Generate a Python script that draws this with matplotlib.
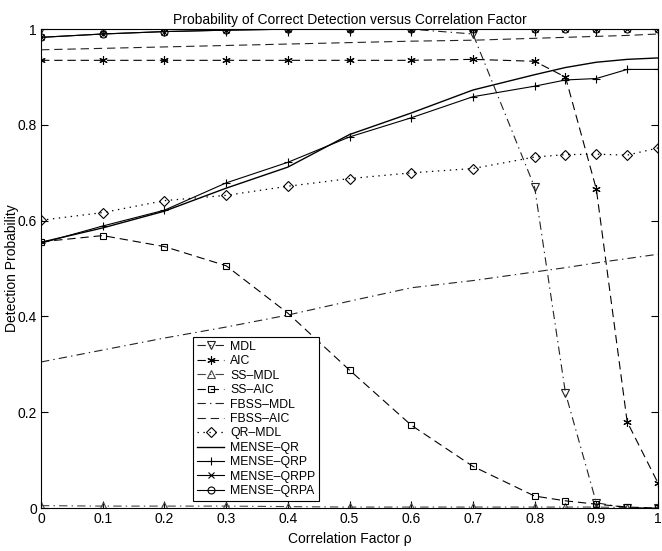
import matplotlib
matplotlib.use("Agg")
import matplotlib.pyplot as plt

plt.rcParams['font.family'] = ['Liberation Sans', 'DejaVu Sans']
plt.rcParams['lines.scale_dashes'] = False

# correlation factor values
rho = [0, 0.1, 0.2, 0.3, 0.4, 0.5, 0.6, 0.7, 0.8, 0.85, 0.9, 0.95, 1.0]

mdl = [1.0, 1.0, 1.0, 1.0, 1.0, 1.0, 1.0, 0.99, 0.67, 0.24, 0.011, 0.0, 0.0]
aic = [0.935, 0.935, 0.935, 0.935, 0.935, 0.935, 0.935, 0.937, 0.933, 0.90, 0.666, 0.18, 0.052]
ss_mdl = [0.005, 0.004, 0.004, 0.004, 0.003, 0.002, 0.002, 0.002, 0.002, 0.002, 0.002, 0.001, 0.0]
ss_aic = [0.556, 0.569, 0.546, 0.506, 0.407, 0.288, 0.173, 0.087, 0.025, 0.015, 0.008, 0.002, 0.0]
fbss_mdl = [0.305, 0.33, 0.355, 0.378, 0.403, 0.432, 0.46, 0.475, 0.493, 0.502, 0.512, 0.521, 0.530]
fbss_aic = [0.957, 0.96, 0.963, 0.966, 0.969, 0.972, 0.975, 0.977, 0.981, 0.983, 0.985, 0.987, 0.99]
qr_mdl = [0.601, 0.617, 0.642, 0.653, 0.672, 0.688, 0.70, 0.709, 0.733, 0.738, 0.739, 0.737, 0.752]
mense_qr = [0.555, 0.585, 0.62, 0.668, 0.712, 0.78, 0.825, 0.873, 0.905, 0.92, 0.931, 0.937, 0.94]
mense_qrp = [0.553, 0.589, 0.622, 0.679, 0.722, 0.775, 0.815, 0.859, 0.881, 0.894, 0.897, 0.916, 0.916]
mense_qrpp = [0.983, 0.99, 0.995, 0.998, 1.0, 1.0, 1.0, 1.0, 1.0, 1.0, 1.0, 1.0, 1.0]
mense_qrpa = [0.983, 0.99, 0.995, 0.998, 1.0, 1.0, 1.0, 1.0, 1.0, 1.0, 1.0, 1.0, 1.0]

xticks = [0, 0.1, 0.2, 0.3, 0.4, 0.5, 0.6, 0.7, 0.8, 0.9, 1]
xticklabels = ['0', '0.1', '0.2', '0.3', '0.4', '0.5', '0.6', '0.7', '0.8', '0.9', '1']
yticks = [0, 0.2, 0.4, 0.6, 0.8, 1]
yticklabels = ['0', '0.2', '0.4', '0.6', '0.8', '1']

# matlab-like dash patterns (points)
dashed = (0, (6, 3.5))
dashdot = (0, (6, 3, 1, 3))
dotted = (0, (1, 3.3))

fig = plt.figure(figsize=(6.62, 5.51), dpi=100)
ax = fig.add_axes([0.062, 0.078, 0.932, 0.869])

mk = dict(markerfacecolor='none', markeredgewidth=0.8, linewidth=0.8)
ax.plot(rho, mdl, linestyle=dashdot, color='#222222', marker='v', markersize=5.5,
        label='MDL', **mk)
ax.plot(rho, aic, linestyle=dashed, color='black', marker=(6, 2, 0), markersize=6,
        label='AIC', **mk)
ax.plot(rho, ss_mdl, linestyle=dashdot, color='#444444', marker='^', markersize=5.5,
        label='SS\u2013MDL', **mk)
ax.plot(rho, ss_aic, linestyle=dashed, color='black', marker='s', markersize=4.5,
        label='SS\u2013AIC', **mk)
ax.plot(rho, fbss_mdl, linestyle=dashdot, color='#222222', linewidth=0.8, label='FBSS\u2013MDL')
ax.plot(rho, fbss_aic, linestyle=dashed, color='#222222', linewidth=0.8, label='FBSS\u2013AIC')
ax.plot(rho, qr_mdl, linestyle=dotted, color='black', marker='D', label='QR\u2013MDL',
        markersize=5, markerfacecolor='none', markeredgewidth=0.8, linewidth=0.9)
ax.plot(rho, mense_qr, '-', color='black', linewidth=1.0, label='MENSE\u2013QR')
ax.plot(rho, mense_qrp, '-', color='black', marker='+', markersize=6,
        label='MENSE\u2013QRP', **mk)
ax.plot(rho, mense_qrpp, '-', color='black', marker='x', label='MENSE\u2013QRPP',
        markersize=4.5, markeredgewidth=0.8, linewidth=0.8)
ax.plot(rho, mense_qrpa, '-', color='black', marker='o', markersize=5,
        label='MENSE\u2013QRPA', **mk)

ax.set_xlim(0, 1)
ax.set_ylim(0, 1)
ax.set_xticks(xticks)
ax.set_xticklabels(xticklabels)
ax.set_yticks(yticks)
ax.set_yticklabels(yticklabels)
ax.tick_params(direction='in', length=5, width=0.8, labelsize=10, top=True, right=True,
               pad=3)
for s in ax.spines.values():
    s.set_linewidth(0.8)

ax.set_title('Probability of Correct Detection versus Correlation Factor', fontsize=10, pad=4)
ax.set_xlabel('Correlation Factor \u03c1', fontsize=10, labelpad=4)
ax.set_ylabel('Detection Probability', fontsize=10)
ax.yaxis.set_label_coords(-0.036, 0.5)

leg = ax.legend(loc='lower left', bbox_to_anchor=(0.247, 0.015), fontsize=8.8,
                frameon=True, fancybox=False, edgecolor='black', framealpha=1,
                handlelength=2.2, handletextpad=0.5, labelspacing=0.2,
                borderpad=0.3, borderaxespad=0)
leg.get_frame().set_linewidth(0.8)

fig.savefig('out.png', dpi=100)
